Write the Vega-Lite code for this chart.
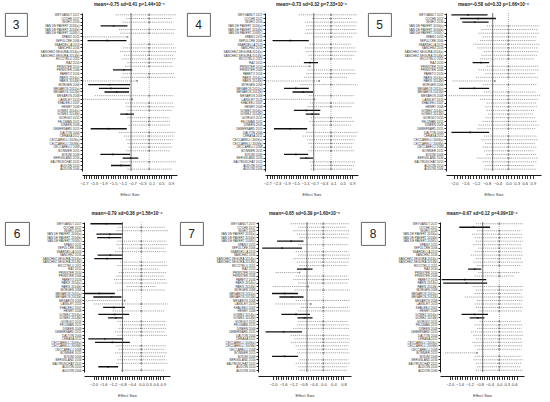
{
"$schema": "https://vega.github.io/schema/vega-lite/v6.json",
"background": "white",
"padding": {"left": 4, "top": 2, "right": 2, "bottom": 2},
"config": {"view": {"stroke": null}, "font": "Liberation Sans",
  "title": {"fontSize": 4.6, "fontWeight": "bold", "color": "#222", "offset": 6},
  "axis": {"labelColor": "#333", "domainColor": "#000", "tickColor": "#000", "domainWidth": 0.9, "tickWidth": 0.8, "grid": false, "labelOverlap": false, "labelFlush": false},
  "axisX": {"titleFontSize": 4, "titleFontWeight": "normal", "titleColor": "#333", "titlePadding": 7, "labelFontSize": 4, "labelPadding": 3, "tickSize": 3.5, "offset": 4},
  "axisY": {"labelFontSize": 3, "labelPadding": 1, "tickSize": 2}},
"datasets": {
"panels": [{"p":"3","mean":-0.75},{"p":"4","mean":-0.73},{"p":"5","mean":-0.58},{"p":"6","mean":-0.79},{"p":"7","mean":-0.65},{"p":"8","mean":-0.67}],
"studies": [
{"i":1,"s":"WEYGANDT 2017"},{"i":2,"s":"COCHE 2017"},{"i":3,"s":"NIGRO 2016"},{"i":4,"s":"VAN DE PAVERT 2016(a)"},{"i":5,"s":"VAN DE PAVERT 2016(b)"},{"i":6,"s":"VAN DE PAVERT 2016(c)"},{"i":7,"s":"SPANO 2015"},{"i":8,"s":"SEPULCRE 2006"},{"i":9,"s":"SBARDELLA 2013"},{"i":10,"s":"SANCHEZ 2016"},{"i":11,"s":"SANCHEZ-SEGURA 2014(a)"},{"i":12,"s":"SANCHEZ-SEGURA 2014(b)"},{"i":13,"s":"RICCITELLI 2011"},{"i":14,"s":"RAZ 2010"},{"i":15,"s":"PRINSTER 2010"},{"i":16,"s":"PRINSTER 2006"},{"i":17,"s":"PARETO 2016"},{"i":18,"s":"PARIS 2014(a)"},{"i":19,"s":"PARIS 2014(b)"},{"i":20,"s":"MORGEN 2006"},{"i":21,"s":"MESAROS 2011(a)"},{"i":22,"s":"MESAROS 2011(b)"},{"i":23,"s":"MESAROS 2008"},{"i":24,"s":"LANSLEY 2013"},{"i":25,"s":"KHALEELI 2007"},{"i":26,"s":"HENRY 2008"},{"i":27,"s":"GOMEZ 2014(a)"},{"i":28,"s":"GOMEZ 2014(b)"},{"i":29,"s":"GIORGIO 2015"},{"i":30,"s":"FELDMAN 2015"},{"i":31,"s":"DINEEN 2009"},{"i":32,"s":"DEBERNARD 2015"},{"i":33,"s":"DALTON 2004"},{"i":34,"s":"CERASA 2012"},{"i":35,"s":"CECCARELLI 2009(a)"},{"i":36,"s":"CECCARELLI 2009(b)"},{"i":37,"s":"CECCARELLI 2008"},{"i":38,"s":"BONNIER 2015"},{"i":39,"s":"BODINI 2009"},{"i":40,"s":"BERGSLAND 2016"},{"i":41,"s":"BALTRUSCHAT 2015"},{"i":42,"s":"AUDOIN 2010"},{"i":43,"s":"AUDOIN 2006"}],
"forest": [
{"p":"3","i":1,"es":0,"lo":-1.39,"hi":1.13,"t":"imp"},
{"p":"3","i":2,"es":0,"lo":-0.95,"hi":0.95,"t":"imp"},
{"p":"3","i":3,"es":0,"lo":-1.1,"hi":1.0,"t":"imp"},
{"p":"3","i":4,"es":-1.47,"lo":-2.01,"hi":-0.9,"t":"obs"},
{"p":"3","i":5,"es":0,"lo":-1.25,"hi":1.1,"t":"imp"},
{"p":"3","i":6,"es":0,"lo":-1.2,"hi":1.05,"t":"imp"},
{"p":"3","i":7,"es":-0.9,"lo":-2.75,"hi":-0.9,"t":"imp"},
{"p":"3","i":8,"es":-1.74,"lo":-2.55,"hi":-0.94,"t":"obs"},
{"p":"3","i":9,"es":0,"lo":-0.85,"hi":1.0,"t":"imp"},
{"p":"3","i":10,"es":0,"lo":-1.1,"hi":1.1,"t":"imp"},
{"p":"3","i":11,"es":0,"lo":-1.2,"hi":1.13,"t":"imp"},
{"p":"3","i":12,"es":0,"lo":-1.05,"hi":1.0,"t":"imp"},
{"p":"3","i":13,"es":0,"lo":-1.15,"hi":1.1,"t":"imp"},
{"p":"3","i":14,"es":0,"lo":-0.9,"hi":0.95,"t":"imp"},
{"p":"3","i":15,"es":0,"lo":-1.0,"hi":1.0,"t":"imp"},
{"p":"3","i":16,"es":-1.05,"lo":-1.5,"hi":-0.7,"t":"obs"},
{"p":"3","i":17,"es":0,"lo":-1.1,"hi":1.05,"t":"imp"},
{"p":"3","i":18,"es":0,"lo":-1.15,"hi":1.1,"t":"imp"},
{"p":"3","i":19,"es":-0.5,"lo":-2.75,"hi":-0.5,"t":"imp"},
{"p":"3","i":20,"es":-1.64,"lo":-2.52,"hi":-0.79,"t":"obs"},
{"p":"3","i":21,"es":-1.58,"lo":-2.08,"hi":-0.83,"t":"obs"},
{"p":"3","i":22,"es":-1.35,"lo":-1.85,"hi":-0.83,"t":"obs"},
{"p":"3","i":23,"es":0,"lo":-2.25,"hi":1.0,"t":"imp"},
{"p":"3","i":24,"es":-0.7,"lo":-2.75,"hi":-0.7,"t":"imp"},
{"p":"3","i":25,"es":0,"lo":-0.98,"hi":1.0,"t":"imp"},
{"p":"3","i":26,"es":0,"lo":-0.95,"hi":1.05,"t":"imp"},
{"p":"3","i":27,"es":0,"lo":-0.9,"hi":0.95,"t":"imp"},
{"p":"3","i":28,"es":-0.93,"lo":-1.2,"hi":-0.63,"t":"obs"},
{"p":"3","i":29,"es":0,"lo":-0.9,"hi":0.85,"t":"imp"},
{"p":"3","i":30,"es":0,"lo":-0.75,"hi":0.9,"t":"imp"},
{"p":"3","i":31,"es":0,"lo":-0.85,"hi":0.85,"t":"imp"},
{"p":"3","i":32,"es":-1.68,"lo":-2.42,"hi":-0.93,"t":"obs"},
{"p":"3","i":33,"es":0,"lo":-1.25,"hi":1.1,"t":"imp"},
{"p":"3","i":34,"es":0,"lo":-1.05,"hi":1.05,"t":"imp"},
{"p":"3","i":35,"es":0,"lo":-0.95,"hi":1.0,"t":"imp"},
{"p":"3","i":36,"es":0,"lo":-0.9,"hi":0.9,"t":"imp"},
{"p":"3","i":37,"es":0,"lo":-0.85,"hi":0.95,"t":"imp"},
{"p":"3","i":38,"es":0,"lo":-0.95,"hi":0.85,"t":"imp"},
{"p":"3","i":39,"es":-1.51,"lo":-2.02,"hi":-0.79,"t":"obs"},
{"p":"3","i":40,"es":-0.77,"lo":-1.1,"hi":-0.45,"t":"obs"},
{"p":"3","i":41,"es":0,"lo":-1.2,"hi":1.13,"t":"imp"},
{"p":"3","i":42,"es":-1.17,"lo":-1.58,"hi":-0.77,"t":"obs"},
{"p":"3","i":43,"es":0,"lo":-0.9,"hi":0.95,"t":"imp"},
{"p":"4","i":1,"es":0,"lo":-1.37,"hi":1.13,"t":"imp"},
{"p":"4","i":2,"es":0,"lo":-0.8,"hi":0.9,"t":"imp"},
{"p":"4","i":3,"es":0,"lo":-1.1,"hi":1.1,"t":"imp"},
{"p":"4","i":4,"es":0,"lo":-1.05,"hi":1.05,"t":"imp"},
{"p":"4","i":5,"es":0,"lo":-1.05,"hi":1.1,"t":"imp"},
{"p":"4","i":6,"es":0,"lo":-1.1,"hi":1.1,"t":"imp"},
{"p":"4","i":7,"es":0,"lo":-0.75,"hi":0.95,"t":"imp"},
{"p":"4","i":8,"es":-1.72,"lo":-2.48,"hi":-0.94,"t":"obs"},
{"p":"4","i":9,"es":0,"lo":-0.9,"hi":0.85,"t":"imp"},
{"p":"4","i":10,"es":0,"lo":-1.1,"hi":1.05,"t":"imp"},
{"p":"4","i":11,"es":0,"lo":-1.05,"hi":1.1,"t":"imp"},
{"p":"4","i":12,"es":0,"lo":-0.95,"hi":1.0,"t":"imp"},
{"p":"4","i":13,"es":0,"lo":-0.85,"hi":0.9,"t":"imp"},
{"p":"4","i":14,"es":-0.89,"lo":-1.15,"hi":-0.55,"t":"obs"},
{"p":"4","i":15,"es":-0.9,"lo":-2.78,"hi":-0.9,"t":"imp"},
{"p":"4","i":16,"es":0,"lo":-1.0,"hi":1.05,"t":"imp"},
{"p":"4","i":17,"es":0,"lo":-1.05,"hi":1.05,"t":"imp"},
{"p":"4","i":18,"es":0,"lo":-1.15,"hi":0.7,"t":"imp"},
{"p":"4","i":19,"es":-0.5,"lo":-2.78,"hi":-0.5,"t":"imp"},
{"p":"4","i":20,"es":0,"lo":-1.3,"hi":1.13,"t":"imp"},
{"p":"4","i":21,"es":-1.49,"lo":-1.99,"hi":-0.94,"t":"obs"},
{"p":"4","i":22,"es":-1.18,"lo":-1.63,"hi":-0.76,"t":"obs"},
{"p":"4","i":23,"es":0,"lo":-0.95,"hi":1.0,"t":"imp"},
{"p":"4","i":24,"es":-0.7,"lo":-2.78,"hi":-0.7,"t":"imp"},
{"p":"4","i":25,"es":0,"lo":-0.9,"hi":1.0,"t":"imp"},
{"p":"4","i":26,"es":0,"lo":-1.0,"hi":0.9,"t":"imp"},
{"p":"4","i":27,"es":-1.04,"lo":-1.57,"hi":-0.45,"t":"obs"},
{"p":"4","i":28,"es":-0.8,"lo":-1.07,"hi":-0.48,"t":"obs"},
{"p":"4","i":29,"es":0,"lo":-0.85,"hi":0.9,"t":"imp"},
{"p":"4","i":30,"es":0,"lo":-0.9,"hi":1.0,"t":"imp"},
{"p":"4","i":31,"es":0,"lo":-0.8,"hi":0.85,"t":"imp"},
{"p":"4","i":32,"es":-1.74,"lo":-2.42,"hi":-1.01,"t":"obs"},
{"p":"4","i":33,"es":0,"lo":-1.05,"hi":1.13,"t":"imp"},
{"p":"4","i":34,"es":0,"lo":-1.2,"hi":1.1,"t":"imp"},
{"p":"4","i":35,"es":0,"lo":-1.0,"hi":1.0,"t":"imp"},
{"p":"4","i":36,"es":0,"lo":-0.95,"hi":0.95,"t":"imp"},
{"p":"4","i":37,"es":0,"lo":-0.85,"hi":0.9,"t":"imp"},
{"p":"4","i":38,"es":0,"lo":-0.95,"hi":1.0,"t":"imp"},
{"p":"4","i":39,"es":-1.49,"lo":-1.99,"hi":-0.97,"t":"obs"},
{"p":"4","i":40,"es":-1.04,"lo":-1.32,"hi":-0.76,"t":"obs"},
{"p":"4","i":41,"es":0,"lo":-0.9,"hi":1.05,"t":"imp"},
{"p":"4","i":42,"es":0,"lo":-0.85,"hi":1.0,"t":"imp"},
{"p":"4","i":43,"es":0,"lo":-0.85,"hi":0.95,"t":"imp"},
{"p":"5","i":1,"es":-1.49,"lo":-2.1,"hi":-0.77,"t":"obs"},
{"p":"5","i":2,"es":-1.12,"lo":-1.78,"hi":-0.46,"t":"obs"},
{"p":"5","i":3,"es":-1.24,"lo":-1.7,"hi":-0.73,"t":"obs"},
{"p":"5","i":4,"es":0,"lo":-0.8,"hi":1.15,"t":"imp"},
{"p":"5","i":5,"es":0,"lo":-1.0,"hi":1.1,"t":"imp"},
{"p":"5","i":6,"es":0,"lo":-1.1,"hi":1.15,"t":"imp"},
{"p":"5","i":7,"es":0,"lo":-0.95,"hi":1.05,"t":"imp"},
{"p":"5","i":8,"es":0,"lo":-1.05,"hi":1.0,"t":"imp"},
{"p":"5","i":9,"es":0,"lo":-1.3,"hi":1.15,"t":"imp"},
{"p":"5","i":10,"es":0,"lo":-1.15,"hi":1.1,"t":"imp"},
{"p":"5","i":11,"es":0,"lo":-0.9,"hi":1.1,"t":"imp"},
{"p":"5","i":12,"es":0,"lo":-1.0,"hi":1.05,"t":"imp"},
{"p":"5","i":13,"es":0,"lo":-1.05,"hi":0.95,"t":"imp"},
{"p":"5","i":14,"es":-1.01,"lo":-1.32,"hi":-0.71,"t":"obs"},
{"p":"5","i":15,"es":0,"lo":-0.8,"hi":1.1,"t":"imp"},
{"p":"5","i":16,"es":0,"lo":-1.1,"hi":1.15,"t":"imp"},
{"p":"5","i":17,"es":0,"lo":-0.85,"hi":1.0,"t":"imp"},
{"p":"5","i":18,"es":0,"lo":-1.2,"hi":1.1,"t":"imp"},
{"p":"5","i":19,"es":-0.5,"lo":-2.07,"hi":-0.5,"t":"imp"},
{"p":"5","i":20,"es":0,"lo":-0.95,"hi":1.05,"t":"imp"},
{"p":"5","i":21,"es":-1.26,"lo":-1.82,"hi":-0.71,"t":"obs"},
{"p":"5","i":22,"es":0,"lo":-0.9,"hi":1.0,"t":"imp"},
{"p":"5","i":23,"es":0,"lo":-2.2,"hi":1.2,"t":"imp"},
{"p":"5","i":24,"es":0,"lo":-1.05,"hi":1.1,"t":"imp"},
{"p":"5","i":25,"es":0,"lo":-0.8,"hi":1.05,"t":"imp"},
{"p":"5","i":26,"es":0,"lo":-0.85,"hi":1.05,"t":"imp"},
{"p":"5","i":27,"es":0,"lo":-0.8,"hi":0.95,"t":"imp"},
{"p":"5","i":28,"es":0,"lo":-0.75,"hi":0.9,"t":"imp"},
{"p":"5","i":29,"es":0,"lo":-0.85,"hi":1.0,"t":"imp"},
{"p":"5","i":30,"es":0,"lo":-0.95,"hi":1.05,"t":"imp"},
{"p":"5","i":31,"es":0,"lo":-1.1,"hi":1.15,"t":"imp"},
{"p":"5","i":32,"es":0,"lo":-1.15,"hi":1.0,"t":"imp"},
{"p":"5","i":33,"es":-1.41,"lo":-2.1,"hi":-0.71,"t":"obs"},
{"p":"5","i":34,"es":0,"lo":-0.9,"hi":1.05,"t":"imp"},
{"p":"5","i":35,"es":0,"lo":-1.0,"hi":1.1,"t":"imp"},
{"p":"5","i":36,"es":0,"lo":-0.85,"hi":1.0,"t":"imp"},
{"p":"5","i":37,"es":0,"lo":-0.95,"hi":1.05,"t":"imp"},
{"p":"5","i":38,"es":0,"lo":-0.9,"hi":0.95,"t":"imp"},
{"p":"5","i":39,"es":0,"lo":-0.8,"hi":1.05,"t":"imp"},
{"p":"5","i":40,"es":0,"lo":-1.15,"hi":1.1,"t":"imp"},
{"p":"5","i":41,"es":0,"lo":-0.95,"hi":1.05,"t":"imp"},
{"p":"5","i":42,"es":0,"lo":-0.85,"hi":0.95,"t":"imp"},
{"p":"5","i":43,"es":0,"lo":-0.9,"hi":1.0,"t":"imp"},
{"p":"6","i":1,"es":-1.46,"lo":-2.13,"hi":-0.79,"t":"obs"},
{"p":"6","i":2,"es":0,"lo":-1.0,"hi":1.0,"t":"imp"},
{"p":"6","i":3,"es":0,"lo":-1.05,"hi":1.15,"t":"imp"},
{"p":"6","i":4,"es":-1.32,"lo":-1.88,"hi":-0.79,"t":"obs"},
{"p":"6","i":5,"es":-1.35,"lo":-1.85,"hi":-0.83,"t":"obs"},
{"p":"6","i":6,"es":0,"lo":-1.0,"hi":1.05,"t":"imp"},
{"p":"6","i":7,"es":0,"lo":-1.05,"hi":1.1,"t":"imp"},
{"p":"6","i":8,"es":0,"lo":-0.95,"hi":1.0,"t":"imp"},
{"p":"6","i":9,"es":0,"lo":-1.1,"hi":1.05,"t":"imp"},
{"p":"6","i":10,"es":-1.3,"lo":-1.83,"hi":-0.79,"t":"obs"},
{"p":"6","i":11,"es":-1.43,"lo":-1.97,"hi":-0.79,"t":"obs"},
{"p":"6","i":12,"es":0,"lo":-0.9,"hi":1.05,"t":"imp"},
{"p":"6","i":13,"es":0,"lo":-1.0,"hi":1.1,"t":"imp"},
{"p":"6","i":14,"es":0,"lo":-0.75,"hi":0.75,"t":"imp"},
{"p":"6","i":15,"es":0,"lo":-0.95,"hi":1.05,"t":"imp"},
{"p":"6","i":16,"es":0,"lo":-1.05,"hi":0.95,"t":"imp"},
{"p":"6","i":17,"es":0,"lo":-1.15,"hi":1.05,"t":"imp"},
{"p":"6","i":18,"es":0,"lo":-1.1,"hi":1.1,"t":"imp"},
{"p":"6","i":19,"es":0,"lo":-0.6,"hi":0.6,"t":"imp"},
{"p":"6","i":20,"es":0,"lo":-1.0,"hi":1.0,"t":"imp"},
{"p":"6","i":21,"es":-1.76,"lo":-2.36,"hi":-1.11,"t":"obs"},
{"p":"6","i":22,"es":-1.25,"lo":-2.01,"hi":-0.83,"t":"obs"},
{"p":"6","i":23,"es":-0.7,"lo":-2.4,"hi":-0.7,"t":"imp"},
{"p":"6","i":24,"es":0,"lo":-2.0,"hi":1.1,"t":"imp"},
{"p":"6","i":25,"es":-1.15,"lo":-1.6,"hi":-0.69,"t":"obs"},
{"p":"6","i":26,"es":0,"lo":-1.2,"hi":1.0,"t":"imp"},
{"p":"6","i":27,"es":-1.11,"lo":-1.8,"hi":-0.51,"t":"obs"},
{"p":"6","i":28,"es":-1.07,"lo":-1.39,"hi":-0.76,"t":"obs"},
{"p":"6","i":29,"es":0,"lo":-1.0,"hi":1.05,"t":"imp"},
{"p":"6","i":30,"es":0,"lo":-0.9,"hi":1.0,"t":"imp"},
{"p":"6","i":31,"es":0,"lo":-0.95,"hi":1.05,"t":"imp"},
{"p":"6","i":32,"es":0,"lo":-1.1,"hi":1.0,"t":"imp"},
{"p":"6","i":33,"es":0,"lo":-1.0,"hi":1.1,"t":"imp"},
{"p":"6","i":34,"es":-1.53,"lo":-2.22,"hi":-0.76,"t":"obs"},
{"p":"6","i":35,"es":-1.21,"lo":-1.94,"hi":-0.48,"t":"obs"},
{"p":"6","i":36,"es":0,"lo":-1.05,"hi":1.05,"t":"imp"},
{"p":"6","i":37,"es":0,"lo":-0.95,"hi":1.0,"t":"imp"},
{"p":"6","i":38,"es":0,"lo":-1.1,"hi":1.1,"t":"imp"},
{"p":"6","i":39,"es":0,"lo":-0.9,"hi":1.0,"t":"imp"},
{"p":"6","i":40,"es":0,"lo":-1.0,"hi":1.05,"t":"imp"},
{"p":"6","i":41,"es":0,"lo":-1.05,"hi":1.1,"t":"imp"},
{"p":"6","i":42,"es":-1.39,"lo":-1.8,"hi":-0.97,"t":"obs"},
{"p":"6","i":43,"es":0,"lo":-0.85,"hi":0.95,"t":"imp"},
{"p":"7","i":1,"es":0,"lo":-1.3,"hi":1.05,"t":"imp"},
{"p":"7","i":2,"es":0,"lo":-1.0,"hi":0.9,"t":"imp"},
{"p":"7","i":3,"es":0,"lo":-1.2,"hi":1.05,"t":"imp"},
{"p":"7","i":4,"es":0,"lo":-1.05,"hi":1.0,"t":"imp"},
{"p":"7","i":5,"es":0,"lo":-0.95,"hi":1.0,"t":"imp"},
{"p":"7","i":6,"es":-1.28,"lo":-1.84,"hi":-0.79,"t":"obs"},
{"p":"7","i":7,"es":0,"lo":-1.0,"hi":1.0,"t":"imp"},
{"p":"7","i":8,"es":-1.64,"lo":-2.43,"hi":-0.85,"t":"obs"},
{"p":"7","i":9,"es":0,"lo":-1.1,"hi":1.0,"t":"imp"},
{"p":"7","i":10,"es":0,"lo":-1.0,"hi":1.05,"t":"imp"},
{"p":"7","i":11,"es":0,"lo":-1.2,"hi":1.05,"t":"imp"},
{"p":"7","i":12,"es":0,"lo":-1.05,"hi":1.0,"t":"imp"},
{"p":"7","i":13,"es":0,"lo":-0.95,"hi":0.95,"t":"imp"},
{"p":"7","i":14,"es":-0.72,"lo":-1.05,"hi":-0.43,"t":"obs"},
{"p":"7","i":15,"es":-0.95,"lo":-1.9,"hi":-0.95,"t":"imp"},
{"p":"7","i":16,"es":0,"lo":-1.1,"hi":1.0,"t":"imp"},
{"p":"7","i":17,"es":0,"lo":-1.2,"hi":1.05,"t":"imp"},
{"p":"7","i":18,"es":0,"lo":-1.0,"hi":1.0,"t":"imp"},
{"p":"7","i":19,"es":-0.6,"lo":-2.0,"hi":-0.6,"t":"imp"},
{"p":"7","i":20,"es":0,"lo":-1.15,"hi":1.05,"t":"imp"},
{"p":"7","i":21,"es":-1.54,"lo":-2.04,"hi":-1.01,"t":"obs"},
{"p":"7","i":22,"es":-1.25,"lo":-1.75,"hi":-0.79,"t":"obs"},
{"p":"7","i":23,"es":0,"lo":-1.1,"hi":1.05,"t":"imp"},
{"p":"7","i":24,"es":-0.5,"lo":-1.9,"hi":-0.5,"t":"imp"},
{"p":"7","i":25,"es":0,"lo":-0.9,"hi":1.0,"t":"imp"},
{"p":"7","i":26,"es":0,"lo":-1.0,"hi":1.05,"t":"imp"},
{"p":"7","i":27,"es":-1.09,"lo":-1.67,"hi":-0.53,"t":"obs"},
{"p":"7","i":28,"es":-0.75,"lo":-1.03,"hi":-0.43,"t":"obs"},
{"p":"7","i":29,"es":0,"lo":-1.0,"hi":1.0,"t":"imp"},
{"p":"7","i":30,"es":0,"lo":-1.05,"hi":1.05,"t":"imp"},
{"p":"7","i":31,"es":0,"lo":-1.2,"hi":1.05,"t":"imp"},
{"p":"7","i":32,"es":-1.58,"lo":-2.3,"hi":-0.85,"t":"obs"},
{"p":"7","i":33,"es":0,"lo":-1.3,"hi":1.05,"t":"imp"},
{"p":"7","i":34,"es":0,"lo":-1.15,"hi":1.05,"t":"imp"},
{"p":"7","i":35,"es":0,"lo":-1.3,"hi":1.05,"t":"imp"},
{"p":"7","i":36,"es":0,"lo":-1.1,"hi":1.0,"t":"imp"},
{"p":"7","i":37,"es":0,"lo":-1.0,"hi":1.0,"t":"imp"},
{"p":"7","i":38,"es":0,"lo":-1.05,"hi":1.05,"t":"imp"},
{"p":"7","i":39,"es":-1.54,"lo":-2.04,"hi":-1.01,"t":"obs"},
{"p":"7","i":40,"es":0,"lo":-0.95,"hi":1.0,"t":"imp"},
{"p":"7","i":41,"es":0,"lo":-1.1,"hi":1.05,"t":"imp"},
{"p":"7","i":42,"es":0,"lo":-1.0,"hi":0.95,"t":"imp"},
{"p":"7","i":43,"es":0,"lo":-0.95,"hi":0.95,"t":"imp"},
{"p":"8","i":1,"es":0,"lo":-0.95,"hi":0.95,"t":"imp"},
{"p":"8","i":2,"es":-1.04,"lo":-1.62,"hi":-0.37,"t":"obs"},
{"p":"8","i":3,"es":0,"lo":-0.9,"hi":0.9,"t":"imp"},
{"p":"8","i":4,"es":0,"lo":-1.1,"hi":0.95,"t":"imp"},
{"p":"8","i":5,"es":0,"lo":-1.0,"hi":0.95,"t":"imp"},
{"p":"8","i":6,"es":0,"lo":-0.95,"hi":0.95,"t":"imp"},
{"p":"8","i":7,"es":0,"lo":-1.05,"hi":0.9,"t":"imp"},
{"p":"8","i":8,"es":0,"lo":-0.85,"hi":0.9,"t":"imp"},
{"p":"8","i":9,"es":0,"lo":-1.0,"hi":0.95,"t":"imp"},
{"p":"8","i":10,"es":0,"lo":-1.15,"hi":0.95,"t":"imp"},
{"p":"8","i":11,"es":0,"lo":-0.95,"hi":0.9,"t":"imp"},
{"p":"8","i":12,"es":0,"lo":-1.05,"hi":0.95,"t":"imp"},
{"p":"8","i":13,"es":0,"lo":-0.9,"hi":0.9,"t":"imp"},
{"p":"8","i":14,"es":-1.0,"lo":-1.26,"hi":-0.73,"t":"obs"},
{"p":"8","i":15,"es":0,"lo":-0.85,"hi":0.85,"t":"imp"},
{"p":"8","i":16,"es":0,"lo":-1.0,"hi":0.6,"t":"imp"},
{"p":"8","i":17,"es":-1.4,"lo":-2.33,"hi":-0.53,"t":"obs"},
{"p":"8","i":18,"es":-1.33,"lo":-2.27,"hi":-0.49,"t":"obs"},
{"p":"8","i":19,"es":0,"lo":-1.05,"hi":0.95,"t":"imp"},
{"p":"8","i":20,"es":0,"lo":-0.95,"hi":0.95,"t":"imp"},
{"p":"8","i":21,"es":0,"lo":-1.0,"hi":0.9,"t":"imp"},
{"p":"8","i":22,"es":0,"lo":-1.4,"hi":0.95,"t":"imp"},
{"p":"8","i":23,"es":0,"lo":-0.9,"hi":0.95,"t":"imp"},
{"p":"8","i":24,"es":0,"lo":-1.0,"hi":0.9,"t":"imp"},
{"p":"8","i":25,"es":0,"lo":-0.95,"hi":0.95,"t":"imp"},
{"p":"8","i":26,"es":0,"lo":-0.85,"hi":0.9,"t":"imp"},
{"p":"8","i":27,"es":-1.0,"lo":-1.53,"hi":-0.46,"t":"obs"},
{"p":"8","i":28,"es":-0.87,"lo":-1.2,"hi":-0.6,"t":"obs"},
{"p":"8","i":29,"es":0,"lo":-0.8,"hi":0.9,"t":"imp"},
{"p":"8","i":30,"es":0,"lo":-1.0,"hi":0.95,"t":"imp"},
{"p":"8","i":31,"es":0,"lo":-0.9,"hi":0.9,"t":"imp"},
{"p":"8","i":32,"es":0,"lo":-1.15,"hi":0.95,"t":"imp"},
{"p":"8","i":33,"es":0,"lo":-1.05,"hi":0.95,"t":"imp"},
{"p":"8","i":34,"es":0,"lo":-0.95,"hi":0.9,"t":"imp"},
{"p":"8","i":35,"es":0,"lo":-1.1,"hi":0.95,"t":"imp"},
{"p":"8","i":36,"es":0,"lo":-1.0,"hi":0.95,"t":"imp"},
{"p":"8","i":37,"es":0,"lo":-0.9,"hi":0.9,"t":"imp"},
{"p":"8","i":38,"es":-0.9,"lo":-2.2,"hi":-0.9,"t":"imp"},
{"p":"8","i":39,"es":0,"lo":-1.0,"hi":0.9,"t":"imp"},
{"p":"8","i":40,"es":0,"lo":-1.05,"hi":0.95,"t":"imp"},
{"p":"8","i":41,"es":0,"lo":-0.95,"hi":0.9,"t":"imp"},
{"p":"8","i":42,"es":0,"lo":-0.9,"hi":0.85,"t":"imp"},
{"p":"8","i":43,"es":0,"lo":-0.95,"hi":0.95,"t":"imp"}
]
},
"spacing": 14,
"vconcat": [
{"spacing": 9, "hconcat": [
 {"spacing": 11, "hconcat": [
  {"width": 22, "height": 23, "title": {"text": " ", "fontSize": 5, "offset": 4}, "view": {"stroke": "#555", "strokeWidth": 0.9},
   "data": {"name": "panels"}, "transform": [{"filter": "datum.p == '3'"}],
   "mark": {"type": "text", "fontSize": 12, "color": "#222"}, "encoding": {"text": {"field": "p"}}},
  {"width": 95, "height": 158, "title": "mean=-0.75 sd=0.41 p=1.44×10⁻⁵",
   "data": {"name": "forest"},
   "transform": [{"filter": "datum.p == '3'"}, {"lookup": "i", "from": {"data": {"name": "studies"}, "key": "i", "fields": ["s"]}}],
   "layer": [
    {"mark": {"type": "rule", "clip": true},
     "encoding": {
      "y": {"field": "s", "type": "nominal", "sort": {"field": "i", "op": "min"}, "title": null},
      "x": {"field": "lo", "type": "quantitative", "scale": {"domain": [-2.78, 1.15], "nice": false, "zero": false}, "title": "Effect Size",
        "axis": {"labelOverlap": false, "values": [-2.7,-2.6,-2.5,-2.4,-2.3,-2.2,-2.1,-2,-1.9,-1.8,-1.7,-1.6,-1.5,-1.4,-1.3,-1.2,-1.1,-1,-0.9,-0.8,-0.7,-0.6,-0.5,-0.4,-0.3,-0.2,-0.1,0,0.1,0.2,0.3,0.4,0.5,0.6,0.7,0.8,0.9], "labelExpr": "indexof([-27,-23,-19,-15,-11,-7,-3,1,5,9], round(datum.value*10)) >= 0 ? format(datum.value, '.1f') : ''"}},
      "x2": {"field": "hi"},
      "color": {"field": "t", "type": "nominal", "scale": {"domain": ["obs", "imp"], "range": ["#111", "#666"]}, "legend": null},
      "strokeDash": {"field": "t", "type": "nominal", "scale": {"domain": ["obs", "imp"], "range": [[1, 0], [1.2, 0.9]]}, "legend": null},
      "strokeWidth": {"field": "t", "type": "nominal", "scale": {"domain": ["obs", "imp"], "range": [1.3, 0.6]}, "legend": null}}},
    {"mark": {"type": "square", "filled": true, "size": 3, "clip": true},
     "encoding": {
      "y": {"field": "s", "type": "nominal", "sort": {"field": "i", "op": "min"}, "title": null},
      "x": {"field": "es", "type": "quantitative", "scale": {"domain": [-2.78, 1.15], "nice": false, "zero": false}, "title": "Effect Size",
        "axis": {"labelOverlap": false, "values": [-2.7,-2.6,-2.5,-2.4,-2.3,-2.2,-2.1,-2,-1.9,-1.8,-1.7,-1.6,-1.5,-1.4,-1.3,-1.2,-1.1,-1,-0.9,-0.8,-0.7,-0.6,-0.5,-0.4,-0.3,-0.2,-0.1,0,0.1,0.2,0.3,0.4,0.5,0.6,0.7,0.8,0.9], "labelExpr": "indexof([-27,-23,-19,-15,-11,-7,-3,1,5,9], round(datum.value*10)) >= 0 ? format(datum.value, '.1f') : ''"}},
      "color": {"field": "t", "type": "nominal", "scale": {"domain": ["obs", "imp"], "range": ["#111", "#666"]}, "legend": null}}},
    {"data": {"name": "panels"}, "transform": [{"filter": "datum.p == '3'"}], "mark": {"type": "rule", "color": "#666", "strokeWidth": 0.5, "strokeDash": [1, 1]},
     "encoding": {"x": {"datum": 0, "type": "quantitative", "scale": {"domain": [-2.78, 1.15], "nice": false, "zero": false}, "title": "Effect Size",
        "axis": {"labelOverlap": false, "values": [-2.7,-2.6,-2.5,-2.4,-2.3,-2.2,-2.1,-2,-1.9,-1.8,-1.7,-1.6,-1.5,-1.4,-1.3,-1.2,-1.1,-1,-0.9,-0.8,-0.7,-0.6,-0.5,-0.4,-0.3,-0.2,-0.1,0,0.1,0.2,0.3,0.4,0.5,0.6,0.7,0.8,0.9], "labelExpr": "indexof([-27,-23,-19,-15,-11,-7,-3,1,5,9], round(datum.value*10)) >= 0 ? format(datum.value, '.1f') : ''"}}}},
    {"data": {"name": "panels"}, "transform": [{"filter": "datum.p == '3'"}], "mark": {"type": "rule", "color": "#333", "strokeWidth": 0.7},
     "encoding": {"x": {"field": "mean", "type": "quantitative", "scale": {"domain": [-2.78, 1.15], "nice": false, "zero": false}, "title": "Effect Size",
        "axis": {"labelOverlap": false, "values": [-2.7,-2.6,-2.5,-2.4,-2.3,-2.2,-2.1,-2,-1.9,-1.8,-1.7,-1.6,-1.5,-1.4,-1.3,-1.2,-1.1,-1,-0.9,-0.8,-0.7,-0.6,-0.5,-0.4,-0.3,-0.2,-0.1,0,0.1,0.2,0.3,0.4,0.5,0.6,0.7,0.8,0.9], "labelExpr": "indexof([-27,-23,-19,-15,-11,-7,-3,1,5,9], round(datum.value*10)) >= 0 ? format(datum.value, '.1f') : ''"}}}}
   ]}
 ]},
 {"spacing": 11, "hconcat": [
  {"width": 23, "height": 23, "title": {"text": " ", "fontSize": 5, "offset": 4}, "view": {"stroke": "#555", "strokeWidth": 0.9},
   "data": {"name": "panels"}, "transform": [{"filter": "datum.p == '4'"}],
   "mark": {"type": "text", "fontSize": 12, "color": "#222"}, "encoding": {"text": {"field": "p"}}},
  {"width": 93, "height": 158, "title": "mean=-0.73 sd=0.32 p=7.33×10⁻⁶",
   "data": {"name": "forest"},
   "transform": [{"filter": "datum.p == '4'"}, {"lookup": "i", "from": {"data": {"name": "studies"}, "key": "i", "fields": ["s"]}}],
   "layer": [
    {"mark": {"type": "rule", "clip": true},
     "encoding": {
      "y": {"field": "s", "type": "nominal", "sort": {"field": "i", "op": "min"}, "title": null},
      "x": {"field": "lo", "type": "quantitative", "scale": {"domain": [-2.8, 1.15], "nice": false, "zero": false}, "title": "Effect Size",
        "axis": {"labelOverlap": false, "values": [-2.7,-2.6,-2.5,-2.4,-2.3,-2.2,-2.1,-2,-1.9,-1.8,-1.7,-1.6,-1.5,-1.4,-1.3,-1.2,-1.1,-1,-0.9,-0.8,-0.7,-0.6,-0.5,-0.4,-0.3,-0.2,-0.1,0,0.1,0.2,0.3,0.4,0.5,0.6,0.7,0.8,0.9], "labelExpr": "indexof([-27,-23,-19,-15,-11,-7,-3,1,5,9], round(datum.value*10)) >= 0 ? format(datum.value, '.1f') : ''"}},
      "x2": {"field": "hi"},
      "color": {"field": "t", "type": "nominal", "scale": {"domain": ["obs", "imp"], "range": ["#111", "#666"]}, "legend": null},
      "strokeDash": {"field": "t", "type": "nominal", "scale": {"domain": ["obs", "imp"], "range": [[1, 0], [1.2, 0.9]]}, "legend": null},
      "strokeWidth": {"field": "t", "type": "nominal", "scale": {"domain": ["obs", "imp"], "range": [1.3, 0.6]}, "legend": null}}},
    {"mark": {"type": "square", "filled": true, "size": 3, "clip": true},
     "encoding": {
      "y": {"field": "s", "type": "nominal", "sort": {"field": "i", "op": "min"}, "title": null},
      "x": {"field": "es", "type": "quantitative", "scale": {"domain": [-2.8, 1.15], "nice": false, "zero": false}, "title": "Effect Size",
        "axis": {"labelOverlap": false, "values": [-2.7,-2.6,-2.5,-2.4,-2.3,-2.2,-2.1,-2,-1.9,-1.8,-1.7,-1.6,-1.5,-1.4,-1.3,-1.2,-1.1,-1,-0.9,-0.8,-0.7,-0.6,-0.5,-0.4,-0.3,-0.2,-0.1,0,0.1,0.2,0.3,0.4,0.5,0.6,0.7,0.8,0.9], "labelExpr": "indexof([-27,-23,-19,-15,-11,-7,-3,1,5,9], round(datum.value*10)) >= 0 ? format(datum.value, '.1f') : ''"}},
      "color": {"field": "t", "type": "nominal", "scale": {"domain": ["obs", "imp"], "range": ["#111", "#666"]}, "legend": null}}},
    {"data": {"name": "panels"}, "transform": [{"filter": "datum.p == '4'"}], "mark": {"type": "rule", "color": "#666", "strokeWidth": 0.5, "strokeDash": [1, 1]},
     "encoding": {"x": {"datum": 0, "type": "quantitative", "scale": {"domain": [-2.8, 1.15], "nice": false, "zero": false}, "title": "Effect Size",
        "axis": {"labelOverlap": false, "values": [-2.7,-2.6,-2.5,-2.4,-2.3,-2.2,-2.1,-2,-1.9,-1.8,-1.7,-1.6,-1.5,-1.4,-1.3,-1.2,-1.1,-1,-0.9,-0.8,-0.7,-0.6,-0.5,-0.4,-0.3,-0.2,-0.1,0,0.1,0.2,0.3,0.4,0.5,0.6,0.7,0.8,0.9], "labelExpr": "indexof([-27,-23,-19,-15,-11,-7,-3,1,5,9], round(datum.value*10)) >= 0 ? format(datum.value, '.1f') : ''"}}}},
    {"data": {"name": "panels"}, "transform": [{"filter": "datum.p == '4'"}], "mark": {"type": "rule", "color": "#333", "strokeWidth": 0.7},
     "encoding": {"x": {"field": "mean", "type": "quantitative", "scale": {"domain": [-2.8, 1.15], "nice": false, "zero": false}, "title": "Effect Size",
        "axis": {"labelOverlap": false, "values": [-2.7,-2.6,-2.5,-2.4,-2.3,-2.2,-2.1,-2,-1.9,-1.8,-1.7,-1.6,-1.5,-1.4,-1.3,-1.2,-1.1,-1,-0.9,-0.8,-0.7,-0.6,-0.5,-0.4,-0.3,-0.2,-0.1,0,0.1,0.2,0.3,0.4,0.5,0.6,0.7,0.8,0.9], "labelExpr": "indexof([-27,-23,-19,-15,-11,-7,-3,1,5,9], round(datum.value*10)) >= 0 ? format(datum.value, '.1f') : ''"}}}}
   ]}
 ]},
 {"spacing": 11, "hconcat": [
  {"width": 23, "height": 23, "title": {"text": " ", "fontSize": 5, "offset": 4}, "view": {"stroke": "#555", "strokeWidth": 0.9},
   "data": {"name": "panels"}, "transform": [{"filter": "datum.p == '5'"}],
   "mark": {"type": "text", "fontSize": 12, "color": "#222"}, "encoding": {"text": {"field": "p"}}},
  {"width": 95, "height": 158, "title": "mean=-0.58 sd=0.33 p=1.66×10⁻⁶",
   "data": {"name": "forest"},
   "transform": [{"filter": "datum.p == '5'"}, {"lookup": "i", "from": {"data": {"name": "studies"}, "key": "i", "fields": ["s"]}}],
   "layer": [
    {"mark": {"type": "rule", "clip": true},
     "encoding": {
      "y": {"field": "s", "type": "nominal", "sort": {"field": "i", "op": "min"}, "title": null},
      "x": {"field": "lo", "type": "quantitative", "scale": {"domain": [-2.3, 1.2], "nice": false, "zero": false}, "title": "Effect Size",
        "axis": {"labelOverlap": false, "values": [-2,-1.9,-1.8,-1.7,-1.6,-1.5,-1.4,-1.3,-1.2,-1.1,-1,-0.9,-0.8,-0.7,-0.6,-0.5,-0.4,-0.3,-0.2,-0.1,0,0.1,0.2,0.3,0.4,0.5,0.6,0.7,0.8,0.9], "labelExpr": "indexof([-20,-16,-12,-8,-4,0,3,6,9], round(datum.value*10)) >= 0 ? format(datum.value, '.1f') : ''"}},
      "x2": {"field": "hi"},
      "color": {"field": "t", "type": "nominal", "scale": {"domain": ["obs", "imp"], "range": ["#111", "#666"]}, "legend": null},
      "strokeDash": {"field": "t", "type": "nominal", "scale": {"domain": ["obs", "imp"], "range": [[1, 0], [1.2, 0.9]]}, "legend": null},
      "strokeWidth": {"field": "t", "type": "nominal", "scale": {"domain": ["obs", "imp"], "range": [1.3, 0.6]}, "legend": null}}},
    {"mark": {"type": "square", "filled": true, "size": 3, "clip": true},
     "encoding": {
      "y": {"field": "s", "type": "nominal", "sort": {"field": "i", "op": "min"}, "title": null},
      "x": {"field": "es", "type": "quantitative", "scale": {"domain": [-2.3, 1.2], "nice": false, "zero": false}, "title": "Effect Size",
        "axis": {"labelOverlap": false, "values": [-2,-1.9,-1.8,-1.7,-1.6,-1.5,-1.4,-1.3,-1.2,-1.1,-1,-0.9,-0.8,-0.7,-0.6,-0.5,-0.4,-0.3,-0.2,-0.1,0,0.1,0.2,0.3,0.4,0.5,0.6,0.7,0.8,0.9], "labelExpr": "indexof([-20,-16,-12,-8,-4,0,3,6,9], round(datum.value*10)) >= 0 ? format(datum.value, '.1f') : ''"}},
      "color": {"field": "t", "type": "nominal", "scale": {"domain": ["obs", "imp"], "range": ["#111", "#666"]}, "legend": null}}},
    {"data": {"name": "panels"}, "transform": [{"filter": "datum.p == '5'"}], "mark": {"type": "rule", "color": "#666", "strokeWidth": 0.5, "strokeDash": [1, 1]},
     "encoding": {"x": {"datum": 0, "type": "quantitative", "scale": {"domain": [-2.3, 1.2], "nice": false, "zero": false}, "title": "Effect Size",
        "axis": {"labelOverlap": false, "values": [-2,-1.9,-1.8,-1.7,-1.6,-1.5,-1.4,-1.3,-1.2,-1.1,-1,-0.9,-0.8,-0.7,-0.6,-0.5,-0.4,-0.3,-0.2,-0.1,0,0.1,0.2,0.3,0.4,0.5,0.6,0.7,0.8,0.9], "labelExpr": "indexof([-20,-16,-12,-8,-4,0,3,6,9], round(datum.value*10)) >= 0 ? format(datum.value, '.1f') : ''"}}}},
    {"data": {"name": "panels"}, "transform": [{"filter": "datum.p == '5'"}], "mark": {"type": "rule", "color": "#333", "strokeWidth": 0.7},
     "encoding": {"x": {"field": "mean", "type": "quantitative", "scale": {"domain": [-2.3, 1.2], "nice": false, "zero": false}, "title": "Effect Size",
        "axis": {"labelOverlap": false, "values": [-2,-1.9,-1.8,-1.7,-1.6,-1.5,-1.4,-1.3,-1.2,-1.1,-1,-0.9,-0.8,-0.7,-0.6,-0.5,-0.4,-0.3,-0.2,-0.1,0,0.1,0.2,0.3,0.4,0.5,0.6,0.7,0.8,0.9], "labelExpr": "indexof([-20,-16,-12,-8,-4,0,3,6,9], round(datum.value*10)) >= 0 ? format(datum.value, '.1f') : ''"}}}}
   ]}
 ]}
]},
{"spacing": 9, "hconcat": [
 {"spacing": 11, "hconcat": [
  {"width": 24, "height": 23, "title": {"text": " ", "fontSize": 5, "offset": 4}, "view": {"stroke": "#555", "strokeWidth": 0.9},
   "data": {"name": "panels"}, "transform": [{"filter": "datum.p == '6'"}],
   "mark": {"type": "text", "fontSize": 12, "color": "#222"}, "encoding": {"text": {"field": "p"}}},
  {"width": 86, "height": 150, "title": "mean=-0.79 sd=0.36 p=1.56×10⁻⁶",
   "data": {"name": "forest"},
   "transform": [{"filter": "datum.p == '6'"}, {"lookup": "i", "from": {"data": {"name": "studies"}, "key": "i", "fields": ["s"]}}],
   "layer": [
    {"mark": {"type": "rule", "clip": true},
     "encoding": {
      "y": {"field": "s", "type": "nominal", "sort": {"field": "i", "op": "min"}, "title": null},
      "x": {"field": "lo", "type": "quantitative", "scale": {"domain": [-2.4, 1.2], "nice": false, "zero": false}, "title": "Effect Size",
        "axis": {"labelOverlap": false, "values": [-2,-1.9,-1.8,-1.7,-1.6,-1.5,-1.4,-1.3,-1.2,-1.1,-1,-0.9,-0.8,-0.7,-0.6,-0.5,-0.4,-0.3,-0.2,-0.1,0,0.1,0.2,0.3,0.4,0.5,0.6,0.7,0.8,0.9], "labelExpr": "indexof([-20,-16,-12,-8,-4,0,3,6,9], round(datum.value*10)) >= 0 ? format(datum.value, '.1f') : ''"}},
      "x2": {"field": "hi"},
      "color": {"field": "t", "type": "nominal", "scale": {"domain": ["obs", "imp"], "range": ["#111", "#666"]}, "legend": null},
      "strokeDash": {"field": "t", "type": "nominal", "scale": {"domain": ["obs", "imp"], "range": [[1, 0], [1.2, 0.9]]}, "legend": null},
      "strokeWidth": {"field": "t", "type": "nominal", "scale": {"domain": ["obs", "imp"], "range": [1.3, 0.6]}, "legend": null}}},
    {"mark": {"type": "square", "filled": true, "size": 3, "clip": true},
     "encoding": {
      "y": {"field": "s", "type": "nominal", "sort": {"field": "i", "op": "min"}, "title": null},
      "x": {"field": "es", "type": "quantitative", "scale": {"domain": [-2.4, 1.2], "nice": false, "zero": false}, "title": "Effect Size",
        "axis": {"labelOverlap": false, "values": [-2,-1.9,-1.8,-1.7,-1.6,-1.5,-1.4,-1.3,-1.2,-1.1,-1,-0.9,-0.8,-0.7,-0.6,-0.5,-0.4,-0.3,-0.2,-0.1,0,0.1,0.2,0.3,0.4,0.5,0.6,0.7,0.8,0.9], "labelExpr": "indexof([-20,-16,-12,-8,-4,0,3,6,9], round(datum.value*10)) >= 0 ? format(datum.value, '.1f') : ''"}},
      "color": {"field": "t", "type": "nominal", "scale": {"domain": ["obs", "imp"], "range": ["#111", "#666"]}, "legend": null}}},
    {"data": {"name": "panels"}, "transform": [{"filter": "datum.p == '6'"}], "mark": {"type": "rule", "color": "#666", "strokeWidth": 0.5, "strokeDash": [1, 1]},
     "encoding": {"x": {"datum": 0, "type": "quantitative", "scale": {"domain": [-2.4, 1.2], "nice": false, "zero": false}, "title": "Effect Size",
        "axis": {"labelOverlap": false, "values": [-2,-1.9,-1.8,-1.7,-1.6,-1.5,-1.4,-1.3,-1.2,-1.1,-1,-0.9,-0.8,-0.7,-0.6,-0.5,-0.4,-0.3,-0.2,-0.1,0,0.1,0.2,0.3,0.4,0.5,0.6,0.7,0.8,0.9], "labelExpr": "indexof([-20,-16,-12,-8,-4,0,3,6,9], round(datum.value*10)) >= 0 ? format(datum.value, '.1f') : ''"}}}},
    {"data": {"name": "panels"}, "transform": [{"filter": "datum.p == '6'"}], "mark": {"type": "rule", "color": "#333", "strokeWidth": 0.7},
     "encoding": {"x": {"field": "mean", "type": "quantitative", "scale": {"domain": [-2.4, 1.2], "nice": false, "zero": false}, "title": "Effect Size",
        "axis": {"labelOverlap": false, "values": [-2,-1.9,-1.8,-1.7,-1.6,-1.5,-1.4,-1.3,-1.2,-1.1,-1,-0.9,-0.8,-0.7,-0.6,-0.5,-0.4,-0.3,-0.2,-0.1,0,0.1,0.2,0.3,0.4,0.5,0.6,0.7,0.8,0.9], "labelExpr": "indexof([-20,-16,-12,-8,-4,0,3,6,9], round(datum.value*10)) >= 0 ? format(datum.value, '.1f') : ''"}}}}
   ]}
 ]},
 {"spacing": 11, "hconcat": [
  {"width": 23, "height": 23, "title": {"text": " ", "fontSize": 5, "offset": 4}, "view": {"stroke": "#555", "strokeWidth": 0.9},
   "data": {"name": "panels"}, "transform": [{"filter": "datum.p == '7'"}],
   "mark": {"type": "text", "fontSize": 12, "color": "#222"}, "encoding": {"text": {"field": "p"}}},
  {"width": 93, "height": 150, "title": "mean=-0.65 sd=0.39 p=1.60×10⁻⁶",
   "data": {"name": "forest"},
   "transform": [{"filter": "datum.p == '7'"}, {"lookup": "i", "from": {"data": {"name": "studies"}, "key": "i", "fields": ["s"]}}],
   "layer": [
    {"mark": {"type": "rule", "clip": true},
     "encoding": {
      "y": {"field": "s", "type": "nominal", "sort": {"field": "i", "op": "min"}, "title": null},
      "x": {"field": "lo", "type": "quantitative", "scale": {"domain": [-2.6, 1.1], "nice": false, "zero": false}, "title": "Effect Size",
        "axis": {"labelOverlap": false, "values": [-2,-1.9,-1.8,-1.7,-1.6,-1.5,-1.4,-1.3,-1.2,-1.1,-1,-0.9,-0.8,-0.7,-0.6,-0.5,-0.4,-0.3,-0.2,-0.1,0,0.1,0.2,0.3,0.4,0.5,0.6,0.7,0.8], "labelExpr": "indexof([-20,-16,-12,-8,-4,0,4,8], round(datum.value*10)) >= 0 ? format(datum.value, '.1f') : ''"}},
      "x2": {"field": "hi"},
      "color": {"field": "t", "type": "nominal", "scale": {"domain": ["obs", "imp"], "range": ["#111", "#666"]}, "legend": null},
      "strokeDash": {"field": "t", "type": "nominal", "scale": {"domain": ["obs", "imp"], "range": [[1, 0], [1.2, 0.9]]}, "legend": null},
      "strokeWidth": {"field": "t", "type": "nominal", "scale": {"domain": ["obs", "imp"], "range": [1.3, 0.6]}, "legend": null}}},
    {"mark": {"type": "square", "filled": true, "size": 3, "clip": true},
     "encoding": {
      "y": {"field": "s", "type": "nominal", "sort": {"field": "i", "op": "min"}, "title": null},
      "x": {"field": "es", "type": "quantitative", "scale": {"domain": [-2.6, 1.1], "nice": false, "zero": false}, "title": "Effect Size",
        "axis": {"labelOverlap": false, "values": [-2,-1.9,-1.8,-1.7,-1.6,-1.5,-1.4,-1.3,-1.2,-1.1,-1,-0.9,-0.8,-0.7,-0.6,-0.5,-0.4,-0.3,-0.2,-0.1,0,0.1,0.2,0.3,0.4,0.5,0.6,0.7,0.8], "labelExpr": "indexof([-20,-16,-12,-8,-4,0,4,8], round(datum.value*10)) >= 0 ? format(datum.value, '.1f') : ''"}},
      "color": {"field": "t", "type": "nominal", "scale": {"domain": ["obs", "imp"], "range": ["#111", "#666"]}, "legend": null}}},
    {"data": {"name": "panels"}, "transform": [{"filter": "datum.p == '7'"}], "mark": {"type": "rule", "color": "#666", "strokeWidth": 0.5, "strokeDash": [1, 1]},
     "encoding": {"x": {"datum": 0, "type": "quantitative", "scale": {"domain": [-2.6, 1.1], "nice": false, "zero": false}, "title": "Effect Size",
        "axis": {"labelOverlap": false, "values": [-2,-1.9,-1.8,-1.7,-1.6,-1.5,-1.4,-1.3,-1.2,-1.1,-1,-0.9,-0.8,-0.7,-0.6,-0.5,-0.4,-0.3,-0.2,-0.1,0,0.1,0.2,0.3,0.4,0.5,0.6,0.7,0.8], "labelExpr": "indexof([-20,-16,-12,-8,-4,0,4,8], round(datum.value*10)) >= 0 ? format(datum.value, '.1f') : ''"}}}},
    {"data": {"name": "panels"}, "transform": [{"filter": "datum.p == '7'"}], "mark": {"type": "rule", "color": "#333", "strokeWidth": 0.7},
     "encoding": {"x": {"field": "mean", "type": "quantitative", "scale": {"domain": [-2.6, 1.1], "nice": false, "zero": false}, "title": "Effect Size",
        "axis": {"labelOverlap": false, "values": [-2,-1.9,-1.8,-1.7,-1.6,-1.5,-1.4,-1.3,-1.2,-1.1,-1,-0.9,-0.8,-0.7,-0.6,-0.5,-0.4,-0.3,-0.2,-0.1,0,0.1,0.2,0.3,0.4,0.5,0.6,0.7,0.8], "labelExpr": "indexof([-20,-16,-12,-8,-4,0,4,8], round(datum.value*10)) >= 0 ? format(datum.value, '.1f') : ''"}}}}
   ]}
 ]},
 {"spacing": 11, "hconcat": [
  {"width": 24, "height": 23, "title": {"text": " ", "fontSize": 5, "offset": 4}, "view": {"stroke": "#555", "strokeWidth": 0.9},
   "data": {"name": "panels"}, "transform": [{"filter": "datum.p == '8'"}],
   "mark": {"type": "text", "fontSize": 12, "color": "#222"}, "encoding": {"text": {"field": "p"}}},
  {"width": 84, "height": 150, "title": "mean=-0.67 sd=0.12 p=4.09×10⁻⁶",
   "data": {"name": "forest"},
   "transform": [{"filter": "datum.p == '8'"}, {"lookup": "i", "from": {"data": {"name": "studies"}, "key": "i", "fields": ["s"]}}],
   "layer": [
    {"mark": {"type": "rule", "clip": true},
     "encoding": {
      "y": {"field": "s", "type": "nominal", "sort": {"field": "i", "op": "min"}, "title": null},
      "x": {"field": "lo", "type": "quantitative", "scale": {"domain": [-2.4, 1.0], "nice": false, "zero": false}, "title": "Effect Size",
        "axis": {"labelOverlap": false, "values": [-2,-1.9,-1.8,-1.7,-1.6,-1.5,-1.4,-1.3,-1.2,-1.1,-1,-0.9,-0.8,-0.7,-0.6,-0.5,-0.4,-0.3,-0.2,-0.1,0,0.1,0.2,0.3,0.4,0.5,0.6,0.7], "labelExpr": "indexof([-20,-16,-12,-8,-4,0,3,6], round(datum.value*10)) >= 0 ? format(datum.value, '.1f') : ''"}},
      "x2": {"field": "hi"},
      "color": {"field": "t", "type": "nominal", "scale": {"domain": ["obs", "imp"], "range": ["#111", "#666"]}, "legend": null},
      "strokeDash": {"field": "t", "type": "nominal", "scale": {"domain": ["obs", "imp"], "range": [[1, 0], [1.2, 0.9]]}, "legend": null},
      "strokeWidth": {"field": "t", "type": "nominal", "scale": {"domain": ["obs", "imp"], "range": [1.3, 0.6]}, "legend": null}}},
    {"mark": {"type": "square", "filled": true, "size": 3, "clip": true},
     "encoding": {
      "y": {"field": "s", "type": "nominal", "sort": {"field": "i", "op": "min"}, "title": null},
      "x": {"field": "es", "type": "quantitative", "scale": {"domain": [-2.4, 1.0], "nice": false, "zero": false}, "title": "Effect Size",
        "axis": {"labelOverlap": false, "values": [-2,-1.9,-1.8,-1.7,-1.6,-1.5,-1.4,-1.3,-1.2,-1.1,-1,-0.9,-0.8,-0.7,-0.6,-0.5,-0.4,-0.3,-0.2,-0.1,0,0.1,0.2,0.3,0.4,0.5,0.6,0.7], "labelExpr": "indexof([-20,-16,-12,-8,-4,0,3,6], round(datum.value*10)) >= 0 ? format(datum.value, '.1f') : ''"}},
      "color": {"field": "t", "type": "nominal", "scale": {"domain": ["obs", "imp"], "range": ["#111", "#666"]}, "legend": null}}},
    {"data": {"name": "panels"}, "transform": [{"filter": "datum.p == '8'"}], "mark": {"type": "rule", "color": "#666", "strokeWidth": 0.5, "strokeDash": [1, 1]},
     "encoding": {"x": {"datum": 0, "type": "quantitative", "scale": {"domain": [-2.4, 1.0], "nice": false, "zero": false}, "title": "Effect Size",
        "axis": {"labelOverlap": false, "values": [-2,-1.9,-1.8,-1.7,-1.6,-1.5,-1.4,-1.3,-1.2,-1.1,-1,-0.9,-0.8,-0.7,-0.6,-0.5,-0.4,-0.3,-0.2,-0.1,0,0.1,0.2,0.3,0.4,0.5,0.6,0.7], "labelExpr": "indexof([-20,-16,-12,-8,-4,0,3,6], round(datum.value*10)) >= 0 ? format(datum.value, '.1f') : ''"}}}},
    {"data": {"name": "panels"}, "transform": [{"filter": "datum.p == '8'"}], "mark": {"type": "rule", "color": "#333", "strokeWidth": 0.7},
     "encoding": {"x": {"field": "mean", "type": "quantitative", "scale": {"domain": [-2.4, 1.0], "nice": false, "zero": false}, "title": "Effect Size",
        "axis": {"labelOverlap": false, "values": [-2,-1.9,-1.8,-1.7,-1.6,-1.5,-1.4,-1.3,-1.2,-1.1,-1,-0.9,-0.8,-0.7,-0.6,-0.5,-0.4,-0.3,-0.2,-0.1,0,0.1,0.2,0.3,0.4,0.5,0.6,0.7], "labelExpr": "indexof([-20,-16,-12,-8,-4,0,3,6], round(datum.value*10)) >= 0 ? format(datum.value, '.1f') : ''"}}}}
   ]}
 ]}
]}
]
}
